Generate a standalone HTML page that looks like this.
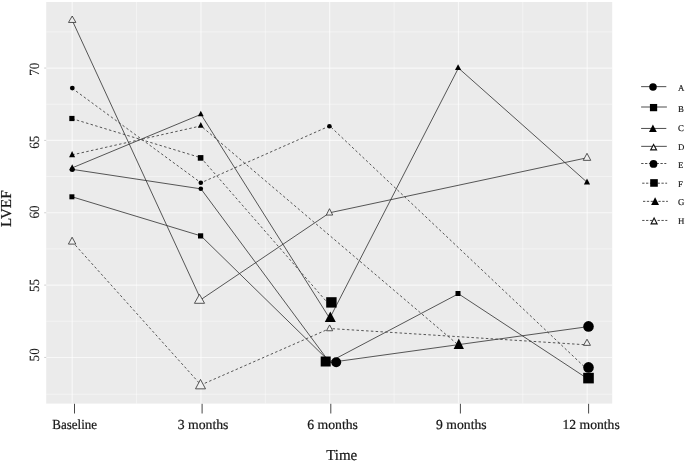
<!DOCTYPE html>
<html><head><meta charset="utf-8"><title>LVEF over time</title>
<style>html,body{margin:0;padding:0;background:#fff;}svg{display:block;}text{text-rendering:geometricPrecision;font-family:"Liberation Serif","Times New Roman",serif;fill:#1a1a1a;}</style>
</head><body>
<svg width="685" height="462" viewBox="0 0 685 462">
<rect width="685" height="462" fill="#ffffff"/>
<rect x="46.2" y="2.0" width="566.0" height="401.6" fill="#ebebeb"/>
<g stroke="#ffffff" stroke-opacity="0.55" stroke-width="0.8">
<line x1="46.2" x2="612.2" y1="31.88" y2="31.88"/>
<line x1="46.2" x2="612.2" y1="104.22" y2="104.22"/>
<line x1="46.2" x2="612.2" y1="176.57" y2="176.57"/>
<line x1="46.2" x2="612.2" y1="248.92" y2="248.92"/>
<line x1="46.2" x2="612.2" y1="321.27" y2="321.27"/>
<line x1="46.2" x2="612.2" y1="394.20" y2="394.20"/>
<line y1="2.0" y2="403.6" x1="136.57" x2="136.57"/>
<line y1="2.0" y2="403.6" x1="265.32" x2="265.32"/>
<line y1="2.0" y2="403.6" x1="394.07" x2="394.07"/>
<line y1="2.0" y2="403.6" x1="522.83" x2="522.83"/>
</g>
<g stroke="#ffffff" stroke-opacity="0.66" stroke-width="1.15">
<line x1="46.2" x2="612.2" y1="68.05" y2="68.05"/>
<line x1="46.2" x2="612.2" y1="140.40" y2="140.40"/>
<line x1="46.2" x2="612.2" y1="212.75" y2="212.75"/>
<line x1="46.2" x2="612.2" y1="285.10" y2="285.10"/>
<line x1="46.2" x2="612.2" y1="357.45" y2="357.45"/>
<line y1="2.0" y2="403.6" x1="72.20" x2="72.20"/>
<line y1="2.0" y2="403.6" x1="200.95" x2="200.95"/>
<line y1="2.0" y2="403.6" x1="329.70" x2="329.70"/>
<line y1="2.0" y2="403.6" x1="458.45" x2="458.45"/>
<line y1="2.0" y2="403.6" x1="587.20" x2="587.20"/>
</g>
<g fill="none" stroke="#3a3a3a" stroke-width="0.85" stroke-linejoin="round">
<polyline points="72.20,169.34 200.95,188.87 329.70,362.51 587.20,326.77"/>
<polyline points="72.20,196.83 200.95,235.90 329.70,361.79 458.45,293.78 587.20,378.43"/>
<polyline points="72.20,167.89 200.95,114.35 329.70,318.38 458.45,68.05 587.20,182.36"/>
<polyline points="72.20,20.30 200.95,299.57 329.70,212.75 587.20,157.76"/>
<polyline points="72.20,88.31 200.95,182.80 329.70,125.93 587.20,369.46" stroke-dasharray="2.5 2.3"/>
<polyline points="72.20,118.69 200.95,157.76 329.70,305.21" stroke-dasharray="2.5 2.3"/>
<polyline points="72.20,154.87 200.95,125.93 458.45,345.15" stroke-dasharray="2.5 2.3"/>
<polyline points="72.20,241.69 200.95,384.94 329.70,328.51 587.20,344.86" stroke-dasharray="2.5 2.3"/>
</g>
<g>
<polygon points="72.2,16.00 75.90,22.45 68.50,22.45" fill="#f0f0f0" stroke="#2c2c2c" stroke-width="0.8" stroke-linejoin="miter"/>
<circle cx="72.3" cy="88.1" r="2.40" fill="#000"/>
<rect x="69.30" y="115.90" width="5.2" height="5.2" fill="#000"/>
<polygon points="72.1,151 75.10,157.2 69.10,157.2" fill="#000"/>
<polygon points="72.2,164.2 75.20,170.3 69.20,170.3" fill="#000"/>
<circle cx="72.2" cy="169.6" r="2.50" fill="#000"/>
<rect x="69.40" y="194.30" width="5.0" height="5.0" fill="#000"/>
<polygon points="72.1,237.20 75.80,244.10 68.40,244.10" fill="#f0f0f0" stroke="#2c2c2c" stroke-width="0.8" stroke-linejoin="miter"/>
<polygon points="200.8,110.7 203.70,116.3 197.90,116.3" fill="#000"/>
<polygon points="200.8,122.05 203.70,127.8 197.90,127.8" fill="#000"/>
<rect x="197.80" y="155.10" width="5.6" height="5.6" fill="#000"/>
<circle cx="200.8" cy="182.8" r="2.30" fill="#000"/>
<circle cx="200.8" cy="188.7" r="2.30" fill="#000"/>
<rect x="198.00" y="233.30" width="5.2" height="5.2" fill="#000"/>
<polygon points="199.5,294.30 204.55,303.30 194.45,303.30" fill="#f0f0f0" stroke="#2c2c2c" stroke-width="0.8" stroke-linejoin="miter"/>
<polygon points="200.5,379.45 205.50,388.85 195.50,388.85" fill="#f0f0f0" stroke="#2c2c2c" stroke-width="0.8" stroke-linejoin="miter"/>
<circle cx="329.4" cy="126.2" r="2.30" fill="#000"/>
<polygon points="329.5,208.70 332.70,215.05 326.30,215.05" fill="#f0f0f0" stroke="#2c2c2c" stroke-width="0.8" stroke-linejoin="miter"/>
<polygon points="330.3,311.5 335.80,322 324.80,322" fill="#000"/>
<rect x="326.20" y="297.20" width="10.4" height="10.4" fill="#000"/>
<polygon points="329.6,324.90 332.70,330.75 326.50,330.75" fill="#f0f0f0" stroke="#2c2c2c" stroke-width="0.8" stroke-linejoin="miter"/>
<rect x="320.70" y="356.50" width="10" height="10" fill="#000"/>
<circle cx="336.2" cy="362.2" r="5.00" fill="#000"/>
<polygon points="458.1,64.3 461.20,69.9 455.00,69.9" fill="#000"/>
<rect x="455.50" y="291.00" width="5" height="5" fill="#000"/>
<polygon points="458.8,338.4 463.95,349 453.65,349" fill="#000"/>
<polygon points="587,153.30 590.75,160.35 583.25,160.35" fill="#f0f0f0" stroke="#2c2c2c" stroke-width="0.8" stroke-linejoin="miter"/>
<polygon points="587,178.5 590.10,184.5 583.90,184.5" fill="#000"/>
<circle cx="588.5" cy="326.4" r="5.30" fill="#000"/>
<polygon points="587,339.20 590.45,345.35 583.55,345.35" fill="#f0f0f0" stroke="#2c2c2c" stroke-width="0.8" stroke-linejoin="miter"/>
<circle cx="588.5" cy="367.4" r="5.30" fill="#000"/>
<rect x="583.20" y="372.80" width="10.6" height="10.6" fill="#000"/>
</g>
<g stroke="#8a8a8a" stroke-opacity="0.4" stroke-width="1">
<line x1="44.2" x2="46.2" y1="68.05" y2="68.05"/>
<line x1="44.2" x2="46.2" y1="140.40" y2="140.40"/>
<line x1="44.2" x2="46.2" y1="212.75" y2="212.75"/>
<line x1="44.2" x2="46.2" y1="285.10" y2="285.10"/>
<line x1="44.2" x2="46.2" y1="357.45" y2="357.45"/>
</g>
<g stroke="#333333" stroke-width="0.9">
<line x1="74.5" x2="74.5" y1="403.8" y2="413.5"/>
<line x1="202.1" x2="202.1" y1="403.8" y2="413.5"/>
<line x1="330.8" x2="330.8" y1="403.8" y2="413.5"/>
<line x1="460.4" x2="460.4" y1="403.8" y2="413.5"/>
<line x1="588.6" x2="588.6" y1="403.8" y2="413.5"/>
</g>
<g font-size="13.8" text-anchor="middle" stroke="#000" stroke-width="0.2">
<text transform="translate(74.65,429.2) scale(0.942,1)">Baseline</text>
<text transform="translate(203.05,429.2) scale(0.996,1)">3 months</text>
<text transform="translate(332.55,429.2) scale(0.994,1)">6 months</text>
<text transform="translate(461.35,429.2) scale(0.99,1)">9 months</text>
<text transform="translate(591.1,429.2) scale(0.99,1)">12 months</text>
</g>
<text transform="translate(341.7,459.6) scale(0.98,1)" font-size="15.3" text-anchor="middle" stroke="#000" stroke-width="0.2">Time</text>
<g font-size="14.1" text-anchor="middle" stroke="#000" stroke-width="0.08">
<text transform="translate(38.7,69.2) rotate(-90) scale(0.93,1)">70</text>
<text transform="translate(38.7,142.2) rotate(-90) scale(0.93,1)">65</text>
<text transform="translate(38.7,211.9) rotate(-90) scale(0.93,1)">60</text>
<text transform="translate(38.7,285.5) rotate(-90) scale(0.93,1)">55</text>
<text transform="translate(38.7,354.85) rotate(-90) scale(0.93,1)">50</text>
</g>
<text transform="translate(11.2,208.7) rotate(-90) scale(1.0,1)" font-size="15.2" text-anchor="middle" stroke="#000" stroke-width="0.2">LVEF</text>
<line x1="641.1" x2="666.3" y1="86.65" y2="86.65" stroke="#2e2e2e" stroke-width="0.85"/>
<circle cx="653.0" cy="86.9" r="3.75" fill="#000"/>
<text x="677.9" y="90.7" font-size="8.8" stroke="#000" stroke-width="0.15">A</text>
<line x1="641.1" x2="666.9" y1="107.0" y2="107.0" stroke="#2e2e2e" stroke-width="0.85"/>
<rect x="649.92" y="103.97" width="7.25" height="7.25" fill="#000"/>
<text x="677.9" y="111.7" font-size="8.8" stroke="#000" stroke-width="0.15">B</text>
<line x1="641.1" x2="666.3" y1="128.45" y2="128.45" stroke="#2e2e2e" stroke-width="0.85"/>
<polygon points="652.9,124.6 656.80,132.1 649.00,132.1" fill="#000"/>
<text x="677.9" y="130.6" font-size="8.8" stroke="#000" stroke-width="0.15">C</text>
<line x1="641.2" x2="666.8" y1="146.35" y2="146.35" stroke="#2e2e2e" stroke-width="0.85"/>
<polygon points="653.6,144.50 656.55,149.90 650.65,149.90" fill="#ffffff" stroke="#111" stroke-width="1.1"/>
<text x="677.9" y="149.5" font-size="8.8" stroke="#000" stroke-width="0.15">D</text>
<line x1="641.2" x2="666.3" y1="163.5" y2="163.5" stroke="#2e2e2e" stroke-width="0.85" stroke-dasharray="2.3 1.55"/>
<circle cx="653.5" cy="163.9" r="3.90" fill="#000"/>
<text x="677.9" y="167.9" font-size="8.8" stroke="#000" stroke-width="0.15">E</text>
<line x1="642.2" x2="667.1" y1="183.2" y2="183.2" stroke="#2e2e2e" stroke-width="0.85" stroke-dasharray="2.3 1.55"/>
<rect x="650.20" y="179.15" width="7.6" height="7.6" fill="#000"/>
<text x="677.9" y="186.7" font-size="8.8" stroke="#000" stroke-width="0.15">F</text>
<line x1="643.0" x2="667.9" y1="201.35" y2="201.35" stroke="#2e2e2e" stroke-width="0.85" stroke-dasharray="2.3 1.55"/>
<polygon points="655.1,197.3 659.05,205.1 651.15,205.1" fill="#000"/>
<text x="677.9" y="205.0" font-size="8.8" stroke="#000" stroke-width="0.15">G</text>
<line x1="642.2" x2="667.3" y1="220.45" y2="220.45" stroke="#2e2e2e" stroke-width="0.85" stroke-dasharray="2.3 1.55"/>
<polygon points="654.1,218.00 657.15,223.90 651.05,223.90" fill="#ffffff" stroke="#111" stroke-width="1.1"/>
<text x="677.9" y="223.7" font-size="8.8" stroke="#000" stroke-width="0.15">H</text>
</svg>
</body></html>
